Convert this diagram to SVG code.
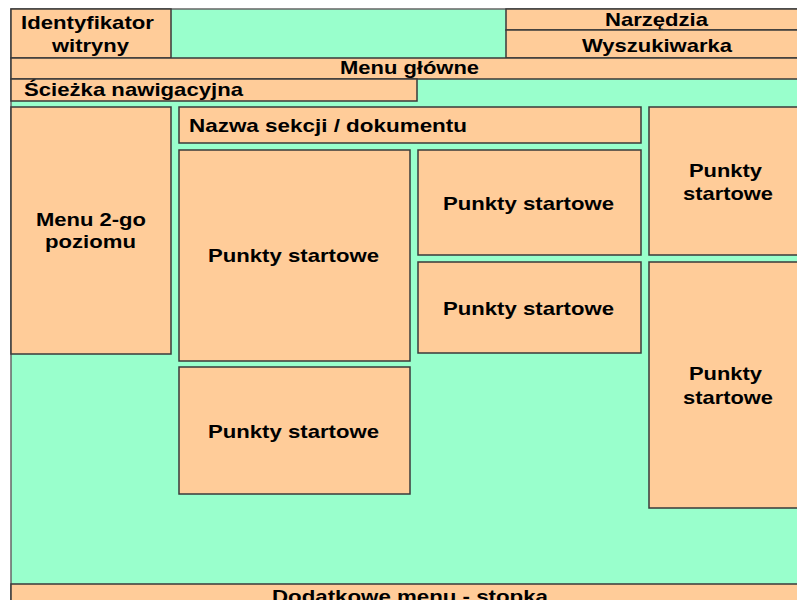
<svg xmlns="http://www.w3.org/2000/svg" width="797" height="600" viewBox="0 0 797 600">
<style>
.b{fill:#FFCC99;stroke:#3a3a3a;stroke-width:1.5}
.t{font-family:"Liberation Sans",Arial,sans-serif;font-weight:bold;font-size:19px;fill:#000;text-anchor:middle}
</style>
<rect x="0" y="0" width="797" height="600" fill="#ffffff"/>
<rect x="11" y="9" width="800" height="600" fill="#99FFCC" stroke="#666" stroke-width="1.5"/>
<g id="identyfikator"><rect class="b" x="11" y="9" width="160" height="49"/><text class="t" x="87.5" y="29" textLength="133" lengthAdjust="spacingAndGlyphs">Identyfikator</text><text class="t" x="90.5" y="52" textLength="77" lengthAdjust="spacingAndGlyphs">witryny</text></g>
<g id="narzedzia"><rect class="b" x="506" y="9" width="300" height="21"/><text class="t" x="656.5" y="26" textLength="103" lengthAdjust="spacingAndGlyphs">Narzędzia</text></g>
<g id="wyszukiwarka"><rect class="b" x="506" y="30" width="300" height="28"/><text class="t" x="657" y="52" textLength="150" lengthAdjust="spacingAndGlyphs">Wyszukiwarka</text></g>
<g id="menu-glowne"><rect class="b" x="11" y="58" width="800" height="21"/><text class="t" x="409.5" y="74" textLength="139" lengthAdjust="spacingAndGlyphs">Menu główne</text></g>
<g id="sciezka"><rect class="b" x="11" y="79" width="406" height="22"/><text class="t" x="133.5" y="96" textLength="219" lengthAdjust="spacingAndGlyphs">Ścieżka nawigacyjna</text></g>
<g id="menu2"><rect class="b" x="11" y="107" width="160" height="247"/><text class="t" x="91" y="226" textLength="110" lengthAdjust="spacingAndGlyphs">Menu 2-go</text><text class="t" x="90.5" y="248" textLength="91" lengthAdjust="spacingAndGlyphs">poziomu</text></g>
<g id="nazwa-sekcji"><rect class="b" x="179" y="107" width="462" height="36"/><text class="t" x="328" y="132" textLength="278" lengthAdjust="spacingAndGlyphs">Nazwa sekcji / dokumentu</text></g>
<g id="punkty1"><rect class="b" x="179" y="150" width="231" height="211"/><text class="t" x="293.5" y="262" textLength="171" lengthAdjust="spacingAndGlyphs">Punkty startowe</text></g>
<g id="punkty2"><rect class="b" x="418" y="150" width="223" height="105"/><text class="t" x="528.5" y="210" textLength="171" lengthAdjust="spacingAndGlyphs">Punkty startowe</text></g>
<g id="punkty3"><rect class="b" x="418" y="262" width="223" height="91"/><text class="t" x="528.5" y="315" textLength="171" lengthAdjust="spacingAndGlyphs">Punkty startowe</text></g>
<g id="punkty4"><rect class="b" x="179" y="367" width="231" height="127"/><text class="t" x="293.5" y="438" textLength="171" lengthAdjust="spacingAndGlyphs">Punkty startowe</text></g>
<g id="punkty5"><rect class="b" x="649" y="107" width="160" height="148"/><text class="t" x="725.5" y="177" textLength="73" lengthAdjust="spacingAndGlyphs">Punkty</text><text class="t" x="728" y="200" textLength="90" lengthAdjust="spacingAndGlyphs">startowe</text></g>
<g id="punkty6"><rect class="b" x="649" y="262" width="160" height="246"/><text class="t" x="725.5" y="380" textLength="73" lengthAdjust="spacingAndGlyphs">Punkty</text><text class="t" x="728" y="404" textLength="90" lengthAdjust="spacingAndGlyphs">startowe</text></g>
<g id="stopka"><rect class="b" x="11" y="584" width="800" height="30"/><text class="t" x="410" y="603" textLength="276" lengthAdjust="spacingAndGlyphs">Dodatkowe menu - stopka</text></g>
<g id="connectors"/>
</svg>
